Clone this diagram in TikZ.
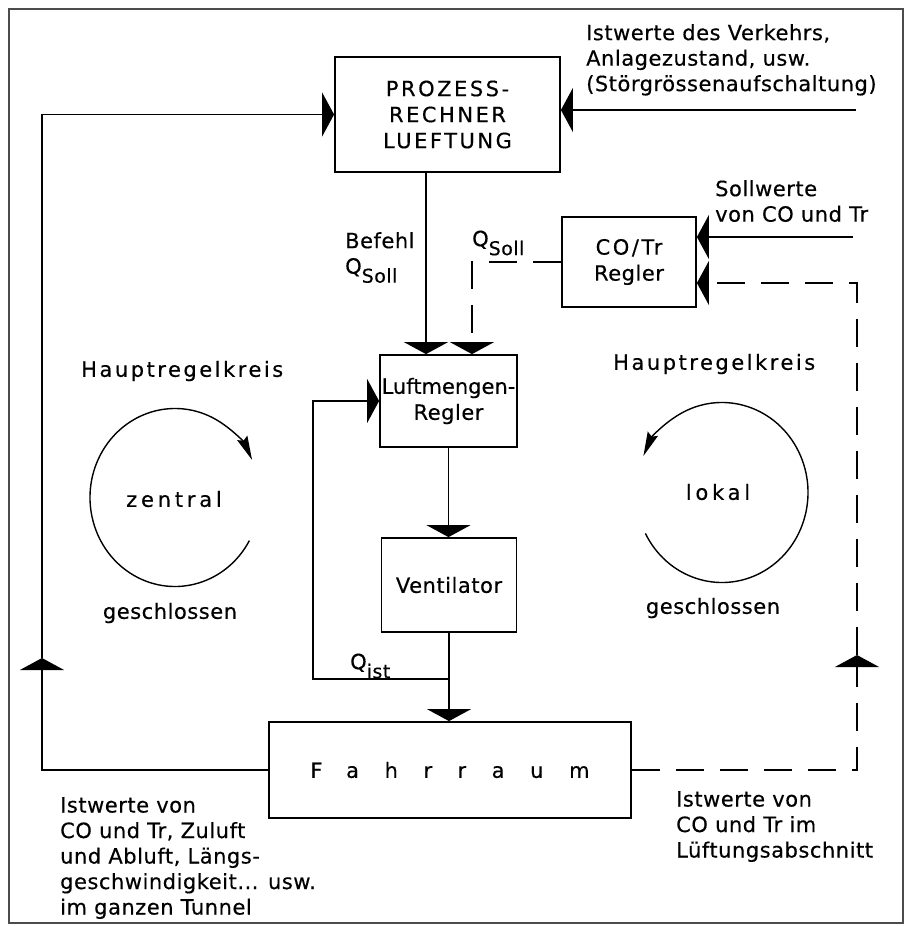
\documentclass[tikz,border=0pt]{standalone}
\usepackage{fontspec}
\setmainfont{DejaVu Sans}[LetterSpace=2.5, FakeBold=0.4]
\newfontfamily\tightfont[FakeBold=0.4]{DejaVu Sans}
\newfontfamily\spacedfont[LetterSpace=12, FakeBold=0.4]{DejaVu Sans}
\newfontfamily\loosefont[LetterSpace=18, FakeBold=0.4]{DejaVu Sans}
\newfontfamily\widefont[LetterSpace=122, FakeBold=0.4]{DejaVu Sans}
\usetikzlibrary{arrows.meta, positioning}

\newcommand{\lowidx}[1]{\raisebox{-9pt}{\fontsize{19}{19}\selectfont #1}}

\tikzset{
  block/.style={draw, line width=1.8pt, inner sep=0pt, align=center, font=\fontsize{21}{26}\selectfont},
  note/.style={inner sep=0pt, align=left, font=\fontsize{21}{25.5}\selectfont},
  flow/.style={line width=1.5pt, -{Triangle[length=12pt, width=44pt]}},
  dashflow/.style={flow, dash pattern=on 28pt off 16pt},
  kreis/.style={line width=1.4pt, -{Stealth[length=24pt, width=11pt, inset=3pt]}},
  frame/.style={line width=1.3pt, draw=black!70},
}

\begin{document}
\begin{tikzpicture}[x=1pt, y=-1pt]
  \useasboundingbox (0,0) rectangle (908,926);
  % Frame, blocks and labels:
  \draw[frame] (9,9) rectangle (903,923);
  \node[block, minimum width=225pt, minimum height=115pt] (rechner) at (447.5,114.5) {\spacedfont PROZESS-\\\spacedfont RECHNER\\\spacedfont LUEFTUNG};
  \node[block, minimum width=134pt, minimum height=90pt] (regler) at (629,262) {\spacedfont CO/Tr\\Regler};
  \node[block, minimum width=137pt, minimum height=92pt] (luft) at (448.5,401) {\tightfont Luftmengen-\\Regler};
  \node[block, minimum width=135pt, minimum height=94pt] (vent) at (449,585) {Ventilator};
  \node[block, minimum width=362pt, minimum height=96pt] (fahr) at (450,770) {\widefont Fahrraum};

  \node[note, anchor=north west] (verkehr) at (586,24) {Istwerte des Verkehrs,\\Anlagezustand, usw.\\(Störgrössenaufschaltung)};
  \node[note, anchor=north west] (sollwerte) at (715,180) {Sollwerte\\von CO und Tr};
  \node[note, anchor=north west] (befehl) at (345,232) {Befehl\\Q\lowidx{Soll}};
  \node[note, anchor=west] (qsoll) at (472,243) {Q\lowidx{Soll}};
  \node[note, anchor=west] (qist) at (350,666) {Q\lowidx{ist}};
  \node[note, anchor=west] (hauptL) at (81,371) {\spacedfont Hauptregelkreis};
  \node[note, anchor=west] (hauptR) at (613,364) {\spacedfont Hauptregelkreis};
  \node[note] (zentral) at (174,499) {\loosefont zentral};
  \node[note] (lokal) at (718,492) {\loosefont lokal};
  \node[note] (geschlL) at (170,613) {geschlossen};
  \node[note] (geschlR) at (713,608) {geschlossen};
  \node[note, anchor=north west] (istL) at (60,797) {Istwerte von\\CO und Tr, Zuluft\\und Abluft, Längs-\\geschwindigkeit... usw.\\im ganzen Tunnel};
  \node[note, anchor=north west] (istR) at (676,791) {Istwerte von\\CO und Tr im\\Lüftungsabschnitt};

  % Signal paths:
  \coordinate (stoer) at (856,110);
  \coordinate (soll) at (853,237);
  \coordinate (upL) at (42,658);
  \coordinate (upR) at (857,655);
  \coordinate (abzw) at (449,679);
  \draw[flow] (stoer) -- (stoer -| rechner.east);
  \draw[flow] (soll) -- (soll -| regler.east);
  \draw[flow] (fahr.west) -| (upL);
  \draw[flow] (upL) |- (rechner.west);
  \draw[dashflow] (fahr.east) -| (upR);
  \draw[dashflow] (upR) |- ([yshift=-21pt]regler.east);
  \draw[dashflow] (regler.west) -| ([xshift=23.5pt]luft.north);
  \draw[flow] ([xshift=-21.5pt]rechner.south) -- ([xshift=-22.5pt]luft.north);
  \draw[flow] (luft.south) -- (luft.south |- vent.north);
  \draw[flow] (vent.south) -- (vent.south |- fahr.north);
  \draw[flow] (abzw) -| ([xshift=-66pt]luft.west) -- (luft.west);

  % Control loops:
  \coordinate (kreisL) at (175,497.5);
  \coordinate (kreisR) at (722,492.5);
  \draw[kreis] ([shift={(-29:85pt and 89pt)}]kreisL) arc[start angle=-29, end angle=-335, x radius=85pt, y radius=89pt];
  \draw[kreis] ([shift={(207:86pt and 90pt)}]kreisR) arc[start angle=207, end angle=516, x radius=86pt, y radius=90pt];
\end{tikzpicture}
\end{document}
